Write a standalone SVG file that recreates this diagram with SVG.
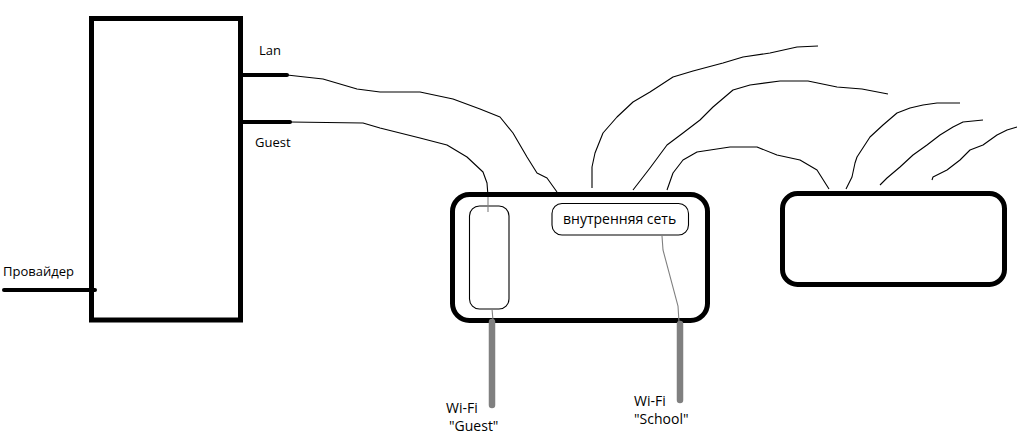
<svg xmlns="http://www.w3.org/2000/svg" width="1023" height="443" viewBox="0 0 1023 443">
<style>
.thick{fill:none;stroke:#000;stroke-width:5}
.port{stroke:#000;stroke-width:4;stroke-linecap:round}
.cable{fill:none;stroke:#000;stroke-width:1.1;stroke-linejoin:round}
.gcable{fill:none;stroke:#808080;stroke-width:1.1}
.inner{fill:#fff;stroke:#000;stroke-width:1.1}
.ant{stroke:#808080;stroke-width:6.5;stroke-linecap:round}
text{font-family:"Open Sans","Noto Sans","DejaVu Sans",sans-serif;font-size:13px;fill:#000}
.big{font-size:14px}
</style>
<rect width="1023" height="443" fill="#fff"/>
<g id="connectors">
<polyline class="cable" points="287,75 323,79 357,89 380,92 420,92 453,99 480,109 500,117 513,133 527,157 537,173 547,178 557,192"/>
<polyline class="cable" points="290,122 363,123 380,128 420,138 447,145 467,157 483,172 487,183 488,196"/>
<polyline class="cable" points="592,188 592,167 595,153 603,133 617,117 633,102 650,92 673,77 693,71 723,63 743,57 770,53 797,47 818,46"/>
<polyline class="cable" points="633,190 650,168 667,145 683,133 700,120 713,107 733,90 750,85 780,81 808,81 837,87 862,89 888,94"/>
<polyline class="cable" points="667,190 673,173 683,160 697,152 730,147 757,147 777,155 800,160 817,170 829,189"/>
<polyline class="cable" points="846,189 852,177 855,163 857,157 870,137 883,125 897,113 910,108 923,105 937,103 960,103"/>
<polyline class="cable" points="880,185 887,178 900,167 913,155 927,145 940,135 953,127 963,122 983,120"/>
<polyline class="cable" points="932,180 933,177 947,170 960,160 970,150 983,145 997,135 1007,130 1017,127"/>
<polyline class="port" points="4,290 95,290"/>
<line class="port" x1="241" y1="75" x2="287" y2="75"/>
<line class="port" x1="241" y1="122" x2="290" y2="122"/>
</g>
<g id="gateway">
<rect class="thick" x="91.5" y="18.5" width="149" height="301.5"/>
<text x="259" y="55">Lan</text>
<text x="255" y="147">Guest</text>
<text x="3" y="276">Провайдер</text>
</g>
<g id="router">
<rect class="thick" x="452.5" y="194.5" width="255" height="126" rx="17"/>
</g>
<g id="guest-net">
<rect class="inner" x="469.5" y="206" width="39.5" height="103" rx="10"/>
<polyline class="gcable" points="488,197 488,212"/>
<polyline class="gcable" points="492,309 493,320"/>
<line class="ant" x1="492" y1="322" x2="492" y2="405"/>
<text class="big" x="446" y="413">Wi-Fi</text>
<text class="big" x="449" y="431">"Guest"</text>
</g>
<g id="internal-net">
<rect class="inner" x="552" y="203.5" width="136.5" height="31.5" rx="10"/>
<text class="big" x="563" y="224">внутренняя сеть</text>
<polyline class="gcable" points="662,236 663,250 678,306 679,322"/>
<line class="ant" x1="680" y1="324" x2="680" y2="400"/>
<text class="big" x="634" y="406">Wi-Fi</text>
<text class="big" x="634" y="424">"School"</text>
</g>
<g id="switch">
<rect class="thick" x="782.5" y="193.5" width="222" height="91" rx="15"/>
</g>
</svg>
